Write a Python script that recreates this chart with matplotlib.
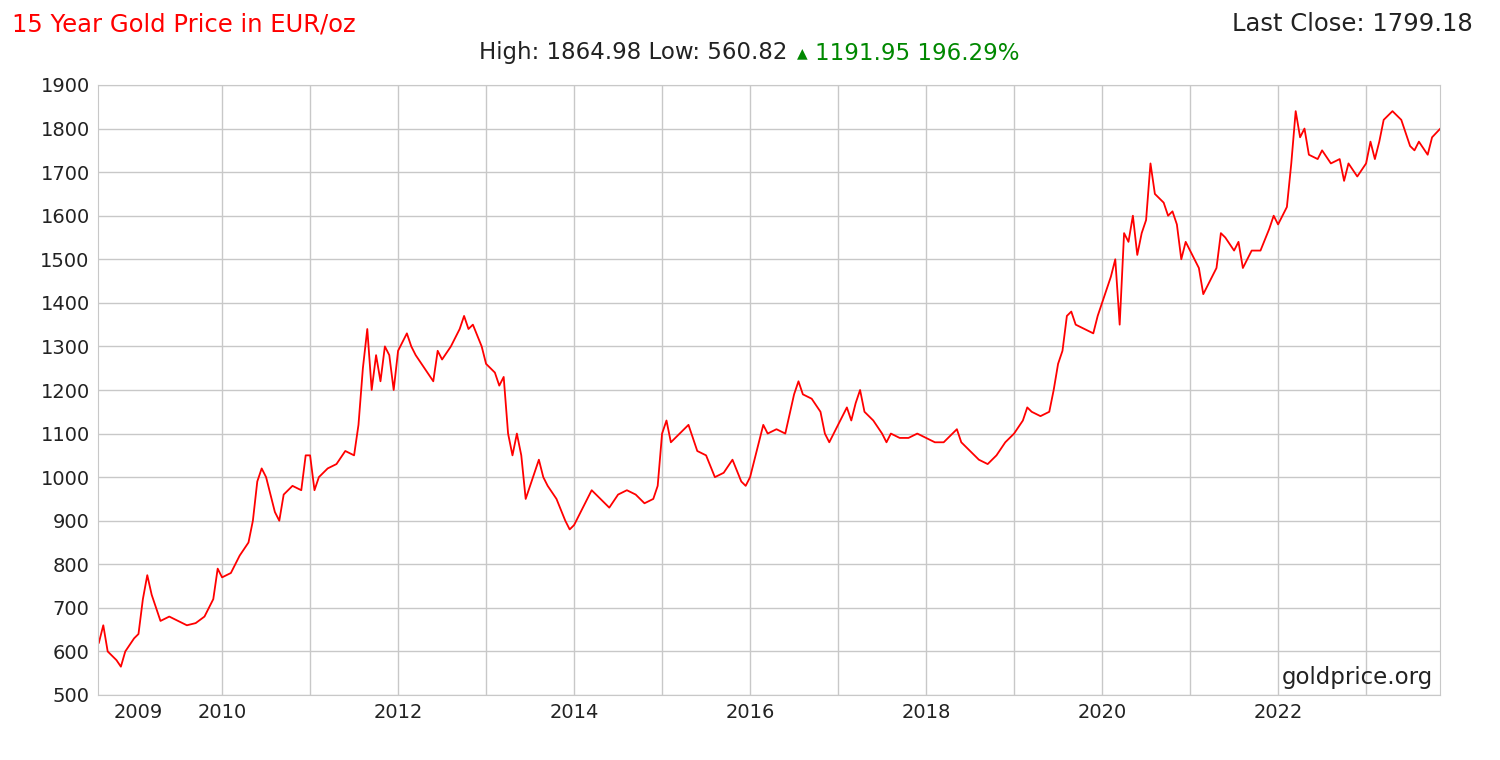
import matplotlib
matplotlib.use("Agg")
import matplotlib.pyplot as plt

t = [2008.6,2008.65,2008.7,2008.8,2008.85,2008.9,2009.0,2009.05,2009.1,2009.15,2009.2,2009.25,2009.3,2009.4,2009.5,2009.6,2009.7,2009.8,2009.9,2009.95,
2010.0,2010.1,2010.2,2010.3,2010.35,2010.4,2010.45,2010.5,2010.6,2010.65,2010.7,2010.8,2010.9,2010.95,
2011.0,2011.05,2011.1,2011.2,2011.3,2011.4,2011.5,2011.55,2011.6,2011.65,2011.7,2011.75,2011.8,2011.85,2011.9,2011.95,
2012.0,2012.1,2012.15,2012.2,2012.3,2012.4,2012.45,2012.5,2012.6,2012.7,2012.75,2012.8,2012.85,2012.95,
2013.0,2013.1,2013.15,2013.2,2013.25,2013.3,2013.35,2013.4,2013.45,2013.5,2013.6,2013.65,2013.7,2013.8,2013.9,2013.95,
2014.0,2014.1,2014.2,2014.3,2014.4,2014.5,2014.6,2014.7,2014.8,2014.9,2014.95,
2015.0,2015.05,2015.1,2015.2,2015.3,2015.4,2015.5,2015.6,2015.7,2015.8,2015.9,2015.95,
2016.0,2016.1,2016.15,2016.2,2016.3,2016.4,2016.5,2016.55,2016.6,2016.7,2016.8,2016.85,2016.9,
2017.0,2017.1,2017.15,2017.2,2017.25,2017.3,2017.4,2017.5,2017.55,2017.6,2017.7,2017.8,2017.9,
2018.0,2018.1,2018.2,2018.3,2018.35,2018.4,2018.5,2018.6,2018.7,2018.8,2018.9,
2019.0,2019.1,2019.15,2019.2,2019.3,2019.4,2019.45,2019.5,2019.55,2019.6,2019.65,2019.7,2019.8,2019.9,2019.95,
2020.0,2020.1,2020.15,2020.2,2020.25,2020.3,2020.35,2020.4,2020.45,2020.5,2020.55,2020.6,2020.7,2020.75,2020.8,2020.85,2020.9,2020.95,
2021.0,2021.1,2021.15,2021.2,2021.3,2021.35,2021.4,2021.5,2021.55,2021.6,2021.7,2021.8,2021.9,2021.95,
2022.0,2022.1,2022.15,2022.2,2022.25,2022.3,2022.35,2022.45,2022.5,2022.6,2022.7,2022.75,2022.8,2022.9,
2023.0,2023.05,2023.1,2023.15,2023.2,2023.3,2023.4,2023.45,2023.5,2023.55,2023.6,2023.7,2023.75,2023.84]
price = [620,660,600,580,565,600,630,640,720,775,730,700,670,680,670,660,665,680,720,790,
770,780,820,850,900,990,1020,1000,920,900,960,980,970,1050,
1050,970,1000,1020,1030,1060,1050,1120,1250,1340,1200,1280,1220,1300,1280,1200,
1290,1330,1300,1280,1250,1220,1290,1270,1300,1340,1370,1340,1350,1300,
1260,1240,1210,1230,1100,1050,1100,1050,950,980,1040,1000,980,950,900,880,
890,930,970,950,930,960,970,960,940,950,980,
1100,1130,1080,1100,1120,1060,1050,1000,1010,1040,990,980,
1000,1080,1120,1100,1110,1100,1190,1220,1190,1180,1150,1100,1080,
1120,1160,1130,1170,1200,1150,1130,1100,1080,1100,1090,1090,1100,
1090,1080,1080,1100,1110,1080,1060,1040,1030,1050,1080,
1100,1130,1160,1150,1140,1150,1200,1260,1290,1370,1380,1350,1340,1330,1370,
1400,1460,1500,1350,1560,1540,1600,1510,1560,1590,1720,1650,1630,1600,1610,1580,1500,1540,
1520,1480,1420,1440,1480,1560,1550,1520,1540,1480,1520,1520,1570,1600,
1580,1620,1720,1840,1780,1800,1740,1730,1750,1720,1730,1680,1720,1690,
1720,1770,1730,1770,1820,1840,1820,1790,1760,1750,1770,1740,1780,1799.18]

grid_years = list(range(2010, 2024))
tick_pos = [2009.05, 2010, 2012, 2014, 2016, 2018, 2020, 2022]
tick_lab = ["2009", "2010", "2012", "2014", "2016", "2018", "2020", "2022"]
yticks = list(range(500, 2000, 100))

fig = plt.figure(figsize=(15, 7.6), dpi=100)
ax = fig.add_axes([98/1500, 1-695/760, (1440-98)/1500, (695-85)/760])
ax.plot(t, price, color="#ff0000", lw=1.3)
ax.set_xlim(2008.59, 2023.84)
ax.set_ylim(500, 1900)
for g in grid_years:
    ax.axvline(g, color="#c8c8c8", lw=1, zorder=0)
for y in yticks:
    ax.axhline(y, color="#c8c8c8", lw=1, zorder=0)
ax.set_yticks(yticks)
ax.set_xticks(tick_pos)
ax.set_xticklabels(tick_lab)
ax.tick_params(length=0, labelsize=14, colors="#222222", pad=6)
for s in ax.spines.values():
    s.set_color("#c8c8c8")
ax.text(0.995, 0.01, "goldprice.org", transform=ax.transAxes, ha="right", va="bottom", fontsize=16.5, color="#222222")

fig.text(12/1500, 1-24/760, "15 Year Gold Price in EUR/oz", color="#ff0000", fontsize=17.5, va="center")
fig.text(1473/1500, 1-24/760, "Last Close: 1799.18", color="#222222", fontsize=17.5, va="center", ha="right")
fig.text(795/1500, 1-53/760, "High: 1864.98 Low: 560.82 ", color="#222222", fontsize=16.5, va="center", ha="right")
fig.text(797/1500, 1-53/760, "\u25b2", color="#008800", fontsize=10, va="center", ha="left")
fig.text(815/1500, 1-53/760, "1191.95 196.29%", color="#008800", fontsize=16.5, va="center", ha="left")
fig.savefig("out.png", dpi=100, facecolor="white")
